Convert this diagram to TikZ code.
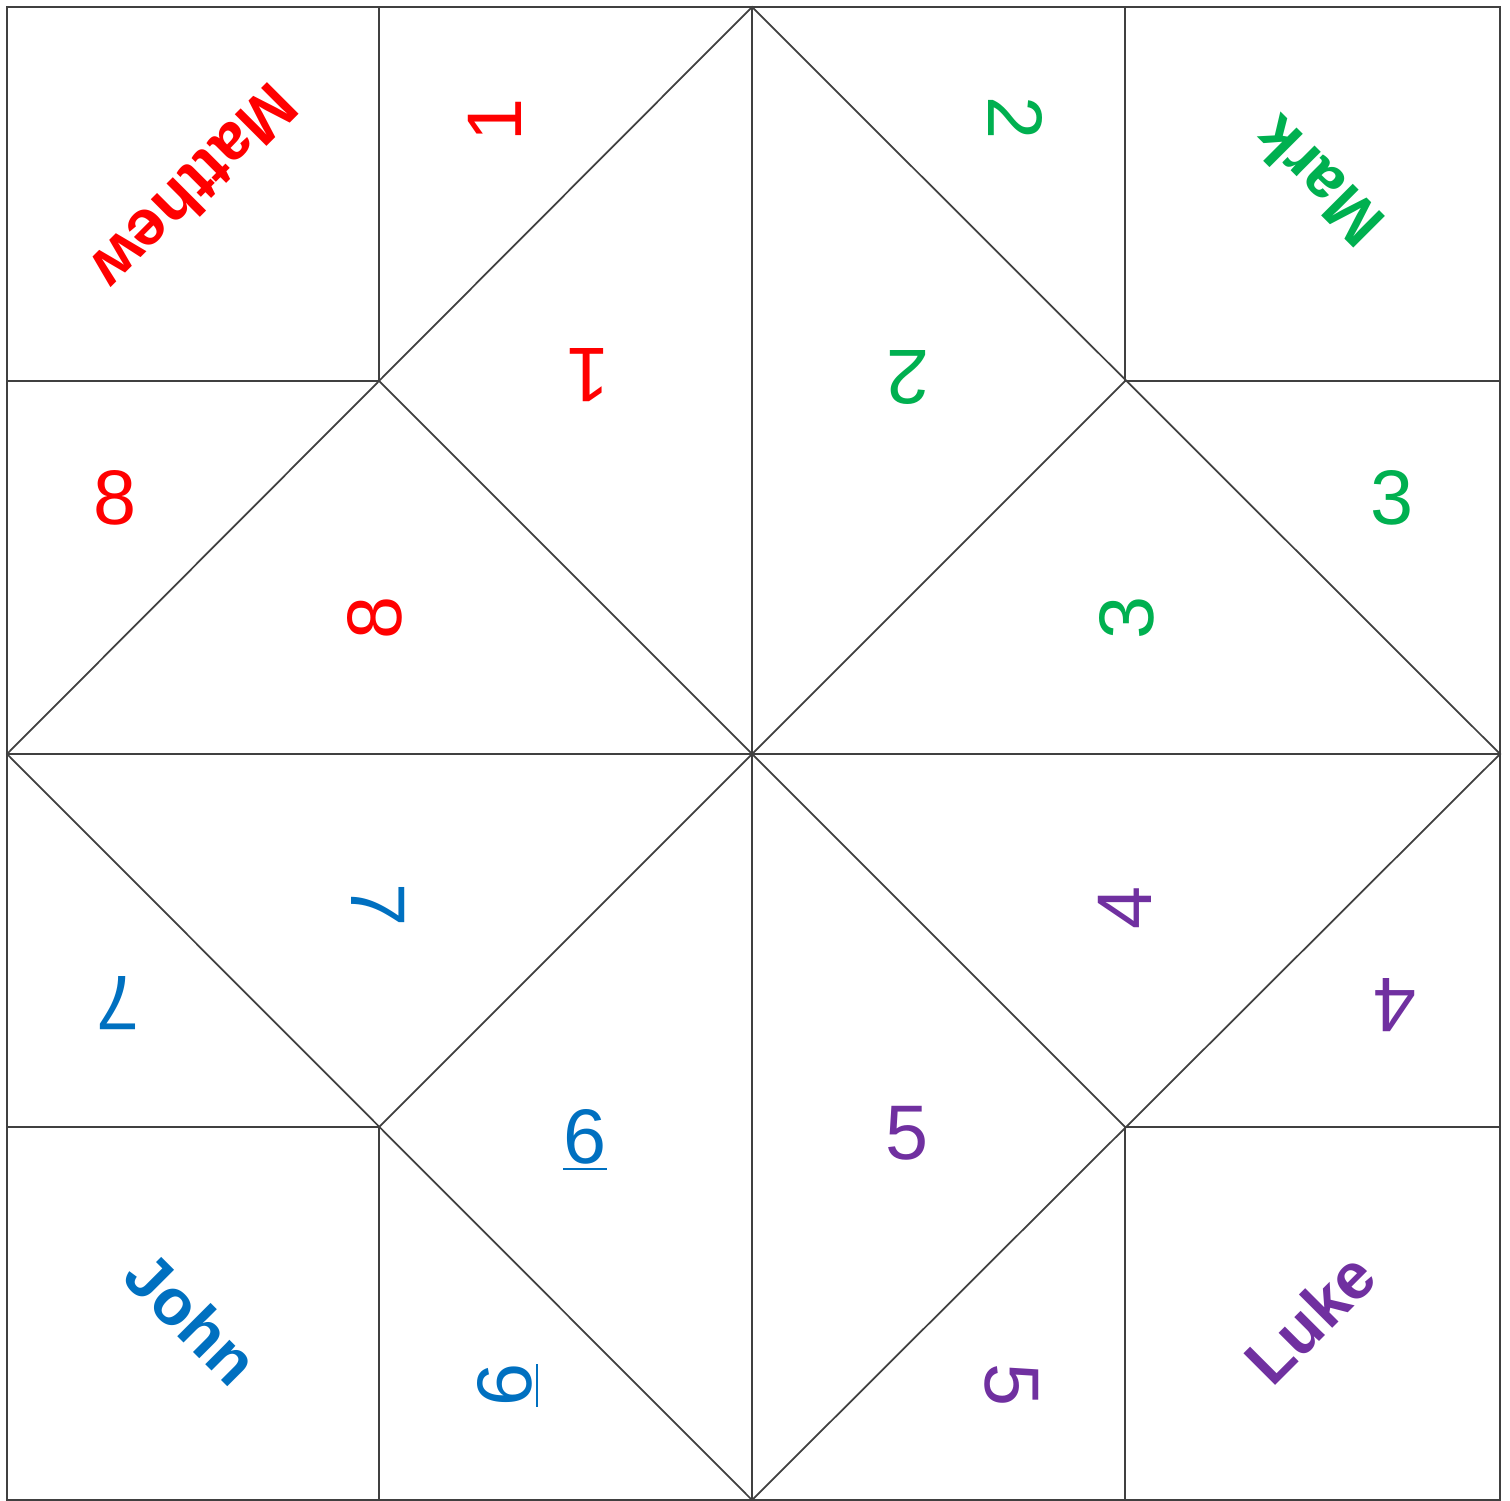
\documentclass[tikz,border=0pt]{standalone}
\usepackage{fontspec}
\setmainfont{Liberation Sans}
\usepackage{tikz}
\definecolor{cRed}{HTML}{FF0000}
\definecolor{cGreen}{HTML}{00B050}
\definecolor{cBlue}{HTML}{0070C0}
\definecolor{cPurple}{HTML}{7030A0}
\tikzset{
  fold/.style={draw=black!75,line width=0.5pt},
  numlabel/.style={inner sep=0pt,font=\fontsize{22}{22}\selectfont},
  gospel/.style={inner sep=0pt,font=\fontsize{18.5}{18.5}\selectfont\bfseries},
}
\begin{document}
\begin{tikzpicture}[x=0.01cm,y=-0.01cm]
  \useasboundingbox (0,0) rectangle (1510,1501);
  % ---- corners and midpoints ----
  \coordinate (tl) at (7,7);
  \coordinate (br) at (1500,1500);
  \coordinate (mt) at (752,7);
  \coordinate (mr) at (1500,754);
  \coordinate (mb) at (752,1500);
  \coordinate (ml) at (7,754);
  \coordinate (q1) at (379,381);
  \coordinate (q2) at (1125,381);
  \coordinate (q3) at (1125,1127);
  \coordinate (q4) at (379,1127);
  % ---- outline and centre cross ----
  \draw[fold] (tl) rectangle (br);
  \draw[fold] (mt) -- (mb);
  \draw[fold] (ml) -- (mr);
  % ---- corner squares ----
  \draw[fold] (379,7) -- (q1) -- (7,381);
  \draw[fold] (1125,7) -- (q2) -- (1500,381);
  \draw[fold] (1500,1127) -- (q3) -- (1125,1500);
  \draw[fold] (379,1500) -- (q4) -- (7,1127);
  % ---- diagonals ----
  \draw[fold] (mt) -- (mr) -- (mb) -- (ml) -- cycle;
  \draw[fold] (q1) -- (q3);
  \draw[fold] (q2) -- (q4);
  % ---- names ----
  \node[gospel,cRed,rotate=225] (matthew) at (195,188) {Matthew};
  \node[gospel,cGreen,rotate=135] (mark) at (1318,182) {Mark};
  \node[gospel,cBlue,rotate=-45] (john) at (192,1318) {John};
  \node[gospel,cPurple,rotate=45] (luke) at (1310,1318) {Luke};
  % ---- numbers ----
  \node[numlabel,cRed,rotate=90] (oneA) at (495,120) {1};
  \node[numlabel,cRed,rotate=180] (oneB) at (588,375) {1};
  \node[numlabel,cGreen,rotate=-90] (twoA) at (1015,118) {2};
  \node[numlabel,cGreen,rotate=180] (twoB) at (908,378) {2};
  \node[numlabel,cRed] (eightA) at (115,498) {8};
  \node[numlabel,cRed,rotate=90] (eightB) at (375,618) {8};
  \node[numlabel,cGreen] (threeA) at (1392,498) {3};
  \node[numlabel,cGreen,rotate=90] (threeB) at (1127,618) {3};
  \node[numlabel,cBlue,rotate=-90] (sevenA) at (378,905) {7};
  \node[numlabel,cBlue,rotate=180] (sevenB) at (118,1003) {7};
  \node[numlabel,cPurple,rotate=90] (fourA) at (1125,908) {4};
  \node[numlabel,cPurple,rotate=180] (fourB) at (1395,1005) {4};
  \node[numlabel,cBlue] (sixA) at (585,1140) {\underline{6}};
  \node[numlabel,cBlue,rotate=90] (sixB) at (508,1385) {\underline{6}};
  \node[numlabel,cPurple] (fiveA) at (907,1133) {5};
  \node[numlabel,cPurple,rotate=-90] (fiveB) at (1012,1385) {5};
\end{tikzpicture}
\end{document}
